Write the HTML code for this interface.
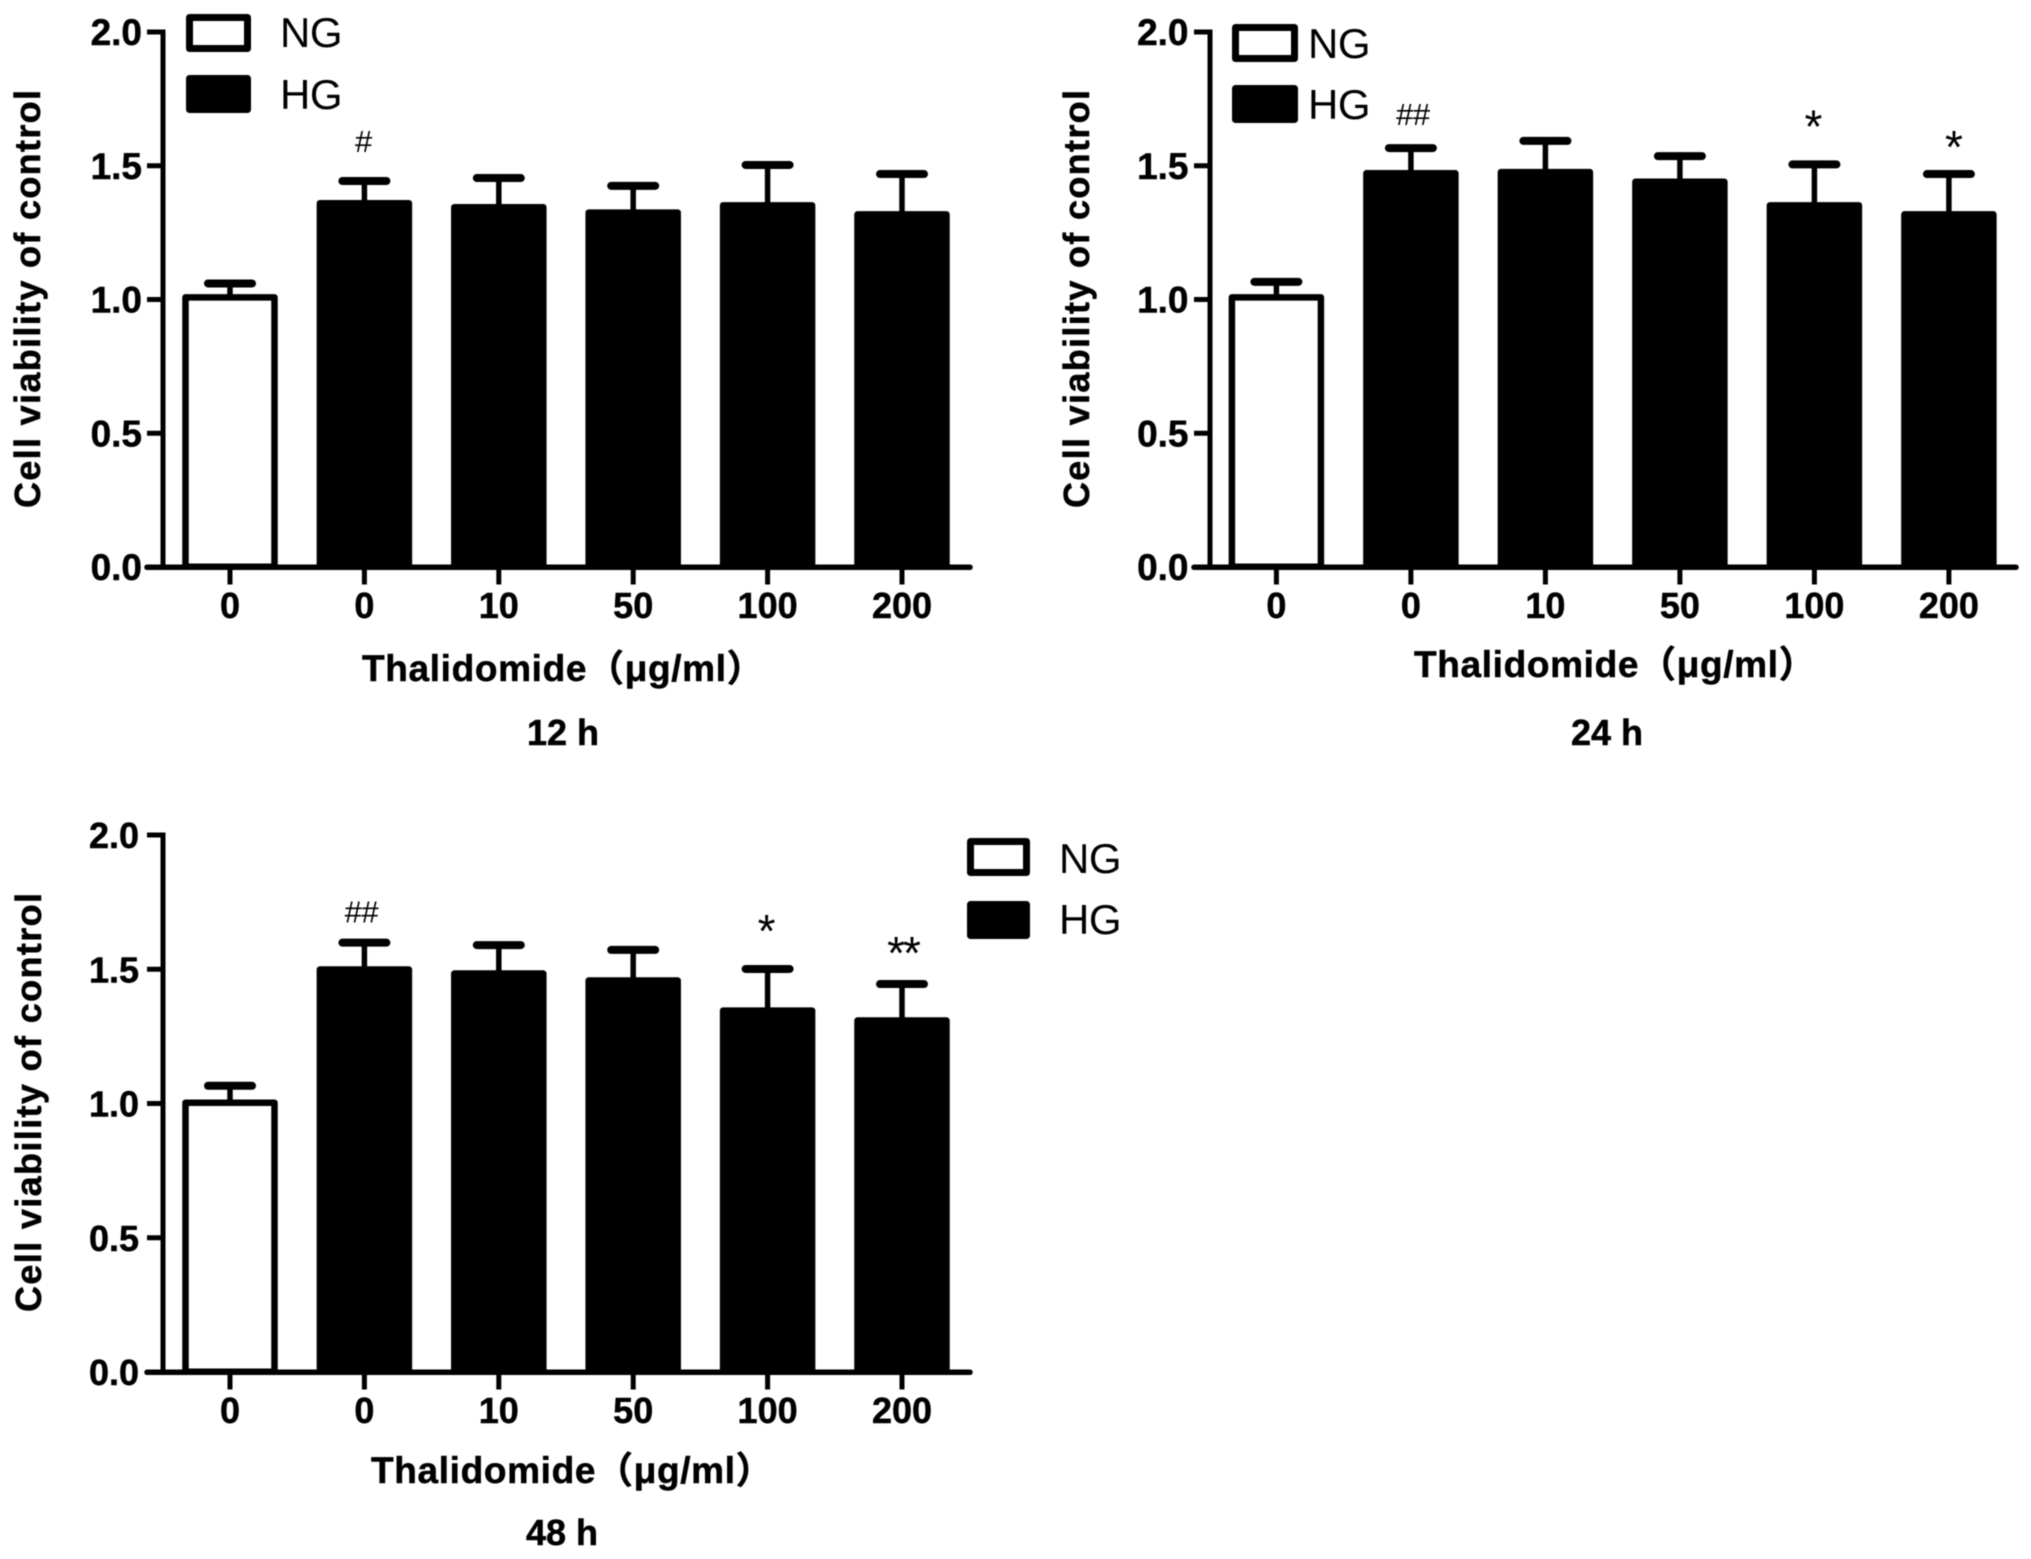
<!DOCTYPE html>
<html lang="en">
<head>
<meta charset="utf-8">
<title>Cell viability of control at 12 h, 24 h and 48 h</title>
<style>
  html, body { margin: 0; padding: 0; background: #fff; width: 2031px; height: 1559px; overflow: hidden; }
  svg { display: block; filter: blur(0.6px); }
  text { font-family: "Liberation Sans", "Noto Sans CJK SC", sans-serif; fill: #000; }
</style>
</head>
<body>
<svg id="figure" xmlns="http://www.w3.org/2000/svg" width="2031" height="1559" viewBox="0 0 2031 1559"></svg>
<script>
// ---- chart data ----
const doseLabels = ['0', '0', '10', '50', '100', '200'];
const yTickValues = [0, 0.5, 1, 1.5, 2];
const legendLabels = ['NG', 'HG'];
const xAxisTitle = 'Thalidomide（μg/ml）';
const yAxisTitle = 'Cell viability of control';

const means12h = [1.008, 1.36, 1.345, 1.325, 1.352, 1.318];
const upper12h = [1.06, 1.443, 1.454, 1.425, 1.503, 1.469];
const marks12h = ['', '#', '', '', '', ''];

const means24h = [1.008, 1.472, 1.476, 1.44, 1.352, 1.318];
const upper24h = [1.066, 1.566, 1.593, 1.536, 1.505, 1.469];
const marks24h = ['', '##', '', '', '*', '*'];

const means48h = [1.003, 1.499, 1.484, 1.458, 1.346, 1.309];
const upper48h = [1.066, 1.599, 1.590, 1.572, 1.501, 1.445];
const marks48h = ['', '##', '', '', '*', '**'];

// ---- layout ----
const panels = [
  { id: '12h', caption: '12 h', means: means12h, upper: upper12h, marks: marks12h,
    axisX: 163, firstX: 230, stepX: 134.4, xEnd: 970, y0: 567, unit: 267.5,
    tickFont: 37, tickRight: 142,
    yTitleX: 40, yTitleTop: 90, yTitleBottom: 508,
    xTitleX: 362, xTitleY: 681, captionX: 563, captionY: 745,
    legendBoxX: 186, legendBoxW: 65, legendBoxTops: [14, 75], legendTextX: 280, legendBaselines: [47, 109],
    markGap: [0, 29, 0, 0, 0, 0], markShift: [0, -1, 0, 0, 0, 0] },
  { id: '24h', caption: '24 h', means: means24h, upper: upper24h, marks: marks24h,
    axisX: 1210, firstX: 1276.4, stepX: 134.5, xEnd: 2016, y0: 567, unit: 267.5,
    tickFont: 37, tickRight: 1188.5,
    yTitleX: 1089, yTitleTop: 90, yTitleBottom: 508,
    xTitleX: 1414, xTitleY: 677, captionX: 1607, captionY: 745,
    legendBoxX: 1232, legendBoxW: 66, legendBoxTops: [24, 85], legendTextX: 1308, legendBaselines: [58, 119],
    markGap: [0, 23, 0, 0, 22, 11], markShift: [0, 2, 0, 0, -2, 4] },
  { id: '48h', caption: '48 h', means: means48h, upper: upper48h, marks: marks48h,
    axisX: 163, firstX: 230, stepX: 134.4, xEnd: 970, y0: 1372, unit: 268.5,
    tickFont: 36, tickRight: 139,
    yTitleX: 41, yTitleTop: 893, yTitleBottom: 1312,
    xTitleX: 371, xTitleY: 1483, captionX: 562, captionY: 1545,
    legendBoxX: 967, legendBoxW: 63, legendBoxTops: [838, 901], legendTextX: 1059, legendBaselines: [873, 934],
    markGap: [0, 20, 0, 0, 22, 15], markShift: [0, -3, 0, 0, -2, 1] }
];

const svgNS = 'http://www.w3.org/2000/svg';
const figure = document.getElementById('figure');

function make(parent, tag, attrs, content) {
  const node = document.createElementNS(svgNS, tag);
  for (const key in attrs) node.setAttribute(key, attrs[key]);
  if (content !== undefined) node.textContent = content;
  parent.appendChild(node);
  return node;
}

panels.forEach(function (p) {
  const yPos = function (v) { return p.y0 - v * p.unit; };
  const xPos = function (i) { return p.firstX + i * p.stepX; };
  const heavy = { stroke: '#000', 'stroke-width': 0.5 };

  const group = make(figure, 'g', {});
  
  

  // bars and error bars
  p.means.forEach(function (mean, i) {
    const cx = xPos(i);
    const stem = make(group, 'line', { x1: cx, x2: cx, y1: yPos(mean), y2: yPos(p.upper[i]), stroke: '#000', 'stroke-width': 5.5 });
    
    

    const cap = make(group, 'line', { x1: cx - 22, x2: cx + 22, y1: yPos(p.upper[i]), y2: yPos(p.upper[i]), stroke: '#000', 'stroke-width': 8, 'stroke-linecap': 'round' });
    
    

    const bar = make(group, 'rect', { x: cx - 44.5, y: yPos(mean), width: 89, height: p.y0 - 0.25 - yPos(mean), fill: i === 0 ? '#fff' : '#000', stroke: '#000', 'stroke-width': 6.5, 'stroke-linejoin': 'round' });
    
    

    // significance marks
    const mark = p.marks[i];
    if (mark) {
      const isHash = mark.charAt(0) === '#';
      const note = make(group, 'text', {
        x: cx + p.markShift[i], y: yPos(p.upper[i]) - p.markGap[i], 'text-anchor': 'middle',
        'font-size': isHash ? 31 : 46, 'letter-spacing': isHash ? -0.5 : -2
      }, mark);
      
      
    }
  });

  // y axis line
  const yAxis = make(group, 'line', { x1: p.axisX, x2: p.axisX, y1: yPos(2) - 2.5, y2: p.y0, stroke: '#000', 'stroke-width': 5 });
  
  

  // x axis line
  const xAxis = make(group, 'line', { x1: p.axisX - 16, x2: p.xEnd, y1: p.y0 + 0.25, y2: p.y0 + 0.25, stroke: '#000', 'stroke-width': 5.5, 'stroke-linecap': 'round' });
  
  

  // y ticks
  yTickValues.forEach(function (v) {
    const tick = make(group, 'line', { x1: p.axisX - 16, x2: p.axisX, y1: yPos(v), y2: yPos(v), stroke: '#000', 'stroke-width': 5 });
    
    

    const label = make(group, 'text', Object.assign({ x: p.tickRight, y: yPos(v) + 13, 'text-anchor': 'end', 'font-size': p.tickFont, 'font-weight': 700 }, heavy), v.toFixed(1));
    
    
  });

  // x ticks
  doseLabels.forEach(function (dose, i) {
    const tick = make(group, 'line', { x1: xPos(i), x2: xPos(i), y1: p.y0, y2: p.y0 + 17.5, stroke: '#000', 'stroke-width': 5 });
    
    

    const label = make(group, 'text', Object.assign({ x: xPos(i), y: p.y0 + 51, 'text-anchor': 'middle', 'font-size': 36, 'font-weight': 700 }, heavy), dose);
    
    
  });

  // axis titles and caption
  const yMid = (p.yTitleTop + p.yTitleBottom) / 2;
  const yTitle = make(group, 'text', Object.assign({
    x: p.yTitleX, y: yMid, 'text-anchor': 'middle', 'font-size': 36, 'font-weight': 700,
    textLength: p.yTitleBottom - p.yTitleTop, lengthAdjust: 'spacing',
    transform: 'rotate(-90 ' + p.yTitleX + ' ' + yMid + ')'
  }, heavy), yAxisTitle);
  
  

  const xTitle = make(group, 'text', Object.assign({ x: p.xTitleX, y: p.xTitleY, 'font-size': 37, 'font-weight': 700, 'letter-spacing': 0.65 }, heavy), xAxisTitle);
  
  

  const caption = make(group, 'text', Object.assign({ x: p.captionX, y: p.captionY, 'text-anchor': 'middle', 'font-size': 36, 'font-weight': 700 }, heavy), p.caption);
  
  

  // legend
  legendLabels.forEach(function (name, i) {
    const swatch = make(group, 'rect', {
      x: p.legendBoxX + 3.5, y: p.legendBoxTops[i] + 3.5, width: p.legendBoxW - 7, height: 31,
      fill: i === 0 ? '#fff' : '#000', stroke: '#000', 'stroke-width': 7, 'stroke-linejoin': 'round'
    });
    
    

    const text = make(group, 'text', { x: p.legendTextX, y: p.legendBaselines[i], 'font-size': 42, 'letter-spacing': -0.5 }, name);
    
    
  });
});
</script>
</body>
</html>
